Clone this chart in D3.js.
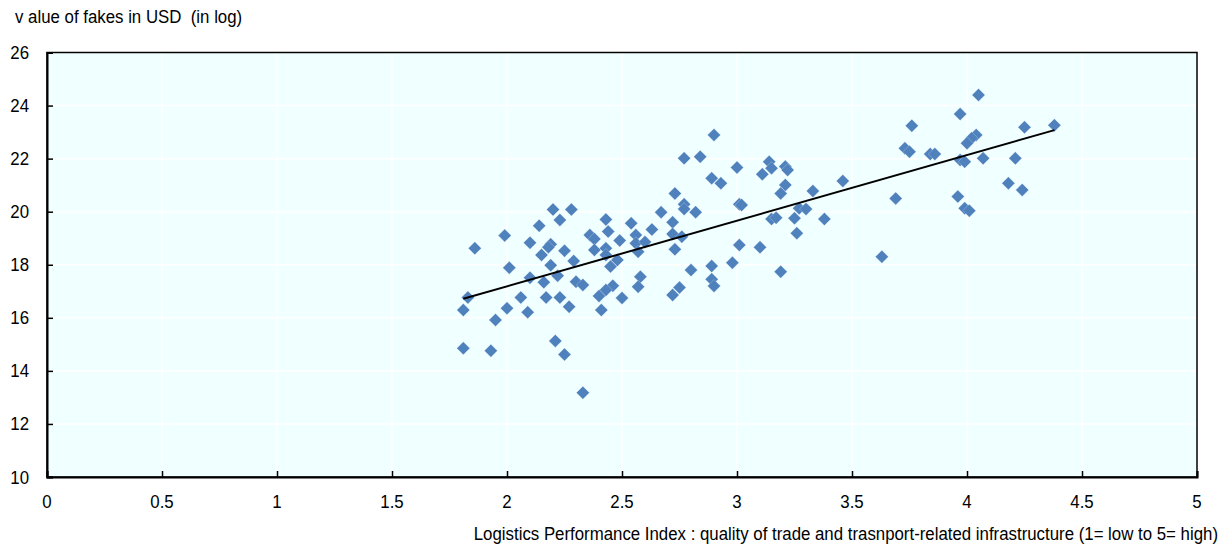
<!DOCTYPE html>
<html>
<head>
<meta charset="utf-8">
<script src="https://cdn.jsdelivr.net/npm/d3@7/dist/d3.min.js"></script>
<style>
  body { margin: 0; background: #fff; }
  svg { display: block; }
  text { font-family: "Liberation Sans Narrow", "Arial Narrow", "Liberation Sans", Arial, sans-serif; fill: #000; }
</style>
</head>
<body>
<svg id="chart" width="1228" height="545"></svg>
<script>
// Logistics Performance Index (infrastructure score), one entry per economy
const lpi = [
  2.20, 2.28, 2.23, 2.43, 2.54, 2.14, 2.44, 1.99, 2.36, 2.38,
  2.49, 2.56, 2.10, 2.19, 2.18, 1.86, 2.25, 2.38, 2.43, 2.43,
  2.56, 2.57, 2.15, 2.48, 2.29, 2.19, 2.45, 2.01, 2.22, 2.10,
  2.30, 2.33, 2.16, 2.58, 2.57, 2.46, 2.43, 2.40, 1.83, 2.06,
  2.17, 2.23, 2.50, 1.81, 2.00, 2.09, 1.95, 2.27, 2.41, 1.81,
  1.93, 2.21, 2.25, 2.33, 2.60, 2.63, 2.90, 2.77, 2.84, 3.00,
  3.14, 3.15, 3.11, 3.21, 3.22, 2.89, 2.93, 3.46, 3.21, 3.19,
  3.33, 2.73, 2.77, 2.77, 2.82, 2.67, 3.01, 3.02, 3.27, 3.30,
  3.15, 3.17, 3.25, 3.38, 2.72, 2.72, 2.76, 2.73, 3.01, 3.10,
  3.26, 2.98, 2.89, 2.80, 3.19, 2.89, 2.90, 2.75, 2.72, 4.05,
  3.97, 3.76, 4.25, 4.38, 4.04, 4.02, 4.00, 3.73, 3.75, 3.84,
  3.86, 3.97, 3.99, 4.07, 4.21, 4.18, 4.24, 3.69, 3.96, 3.99,
  4.01, 3.63
];

// Value of counterfeit imports in USD (natural log), same order as lpi
const fakesLog = [
  20.08, 20.08, 19.69, 19.71, 19.56, 19.47, 19.25, 19.10, 19.12, 18.97,
  18.91, 19.12, 18.83, 18.77, 18.66, 18.62, 18.53, 18.56, 18.62, 18.37,
  18.81, 18.49, 18.37, 18.18, 18.14, 17.98, 17.93, 17.89, 17.59, 17.51,
  17.36, 17.24, 17.34, 17.55, 17.17, 17.21, 17.05, 16.82, 16.77, 16.77,
  16.77, 16.77, 16.75, 16.29, 16.36, 16.21, 15.92, 16.42, 16.29, 14.85,
  14.76, 15.13, 14.62, 13.18, 18.86, 19.33, 22.89, 22.01, 22.07, 21.67,
  21.88, 21.64, 21.41, 21.70, 21.57, 21.26, 21.07, 21.16, 21.01, 20.69,
  20.78, 20.69, 20.28, 20.10, 19.98, 19.98, 20.28, 20.25, 20.13, 20.10,
  19.72, 19.77, 19.75, 19.72, 19.60, 19.16, 19.06, 18.58, 18.74, 18.66,
  19.19, 18.08, 17.95, 17.80, 17.74, 17.45, 17.20, 17.14, 16.86, 24.40,
  23.68, 23.24, 23.18, 23.26, 22.89, 22.77, 22.58, 22.39, 22.26, 22.17,
  22.17, 21.95, 21.88, 22.01, 22.01, 21.07, 20.82, 20.50, 20.57, 20.13,
  20.04, 18.30
];

const xTicks = [0, 0.5, 1, 1.5, 2, 2.5, 3, 3.5, 4, 4.5, 5];
const xTickLabels = ["0", "0.5", "1", "1.5", "2", "2.5", "3", "3.5", "4", "4.5", "5"];
const yTicks = [10, 12, 14, 16, 18, 20, 22, 24, 26];
const yTickLabels = ["10", "12", "14", "16", "18", "20", "22", "24", "26"];

const yTitle = "v alue of fakes in USD  (in log)";
const xTitle = "Logistics Performance Index : quality of trade and trasnport-related infrastructure (1= low to 5= high)";

const svg = d3.select("#chart");
const plot = { left: 47, right: 1197, top: 52.5, bottom: 477 };

const x = d3.scaleLinear().domain([0, 5]).range([plot.left, plot.right]);
const y = d3.scaleLinear().domain([10, 26]).range([plot.bottom, plot.top]);

// condensed label text: taller glyphs squeezed horizontally
const FS = 18.5, SQUEEZE = 0.91;
function label(parent, tx, ty, str, anchor) {
  return parent.append("text")
    .attr("transform", `translate(${tx},${ty}) scale(${SQUEEZE},1)`)
    .attr("text-anchor", anchor || "start")
    .attr("font-size", FS)
    .style("white-space", "pre")
    .text(str);
}

// plot area background
svg.append("rect")
  .attr("x", plot.left).attr("y", plot.top)
  .attr("width", plot.right - plot.left).attr("height", plot.bottom - plot.top)
  .attr("fill", "#F0FFFF");

// white gridlines
svg.append("g").selectAll("line").data(xTicks.slice(1, -1)).join("line")
  .attr("x1", d => x(d)).attr("x2", d => x(d))
  .attr("y1", plot.top).attr("y2", plot.bottom)
  .attr("stroke", "#fff").attr("stroke-width", 1.5);
svg.append("g").selectAll("line").data(yTicks.slice(1, -1)).join("line")
  .attr("x1", plot.left).attr("x2", plot.right)
  .attr("y1", d => y(d)).attr("y2", d => y(d))
  .attr("stroke", "#fff").attr("stroke-width", 1.5);

// frame
svg.append("rect")
  .attr("x", plot.left).attr("y", plot.top)
  .attr("width", plot.right - plot.left).attr("height", plot.bottom - plot.top)
  .attr("fill", "none").attr("stroke", "#000").attr("stroke-width", 1.5);

// axes with inward ticks
const xAxis = svg.append("g")
  .attr("transform", `translate(0,${plot.bottom})`)
  .call(d3.axisTop(x).tickValues(xTicks).tickSize(6).tickFormat(""));
const yAxis = svg.append("g")
  .attr("transform", `translate(${plot.left},0)`)
  .call(d3.axisRight(y).tickValues(yTicks).tickSize(6).tickFormat(""));
[xAxis, yAxis].forEach(g => {
  g.select(".domain").attr("stroke", "#000").attr("stroke-width", 2);
  g.selectAll(".tick line").attr("stroke", "#000").attr("stroke-width", 1.5);
});

// tick labels
const xl = svg.append("g");
xTicks.forEach((d, i) => label(xl, x(d), 508, xTickLabels[i], "middle"));
const yl = svg.append("g");
yTicks.forEach((d, i) => label(yl, 29, y(d) + 6.5, yTickLabels[i], "end"));

// axis titles
label(svg, 15, 23, yTitle, "start");
label(svg, 1218, 540, xTitle, "end");

// linear trend (least squares) over the observed range
const pts = lpi.map((v, i) => [v, fakesLog[i]]);
const mx = d3.mean(lpi), my = d3.mean(fakesLog);
const slope = d3.sum(pts, p => (p[0] - mx) * (p[1] - my)) / d3.sum(pts, p => (p[0] - mx) ** 2);
const intercept = my - slope * mx;
const [xmin, xmax] = d3.extent(lpi);

// markers
const diamond = r => `M0,${-r}L${r},0L0,${r}L${-r},0Z`;
svg.append("g").selectAll("path").data(pts).join("path")
  .attr("transform", d => `translate(${x(d[0])},${y(d[1])})`)
  .attr("d", diamond(6.5))
  .attr("fill", "#4F81BD")
  .attr("stroke", "#fff").attr("stroke-width", 0.4).attr("stroke-opacity", 0.6);

svg.append("line")
  .attr("x1", x(xmin)).attr("y1", y(intercept + slope * xmin))
  .attr("x2", x(xmax)).attr("y2", y(intercept + slope * xmax))
  .attr("stroke", "#000").attr("stroke-width", 2);
</script>
</body>
</html>
